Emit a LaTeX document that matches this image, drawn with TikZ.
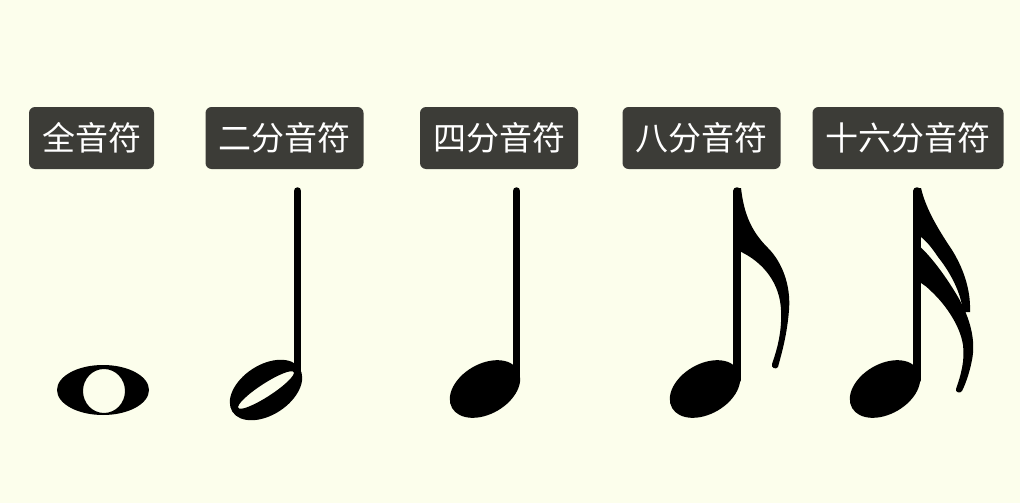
\documentclass[tikz,border=0pt]{standalone}
\usepackage{fontspec}
\usepackage{tikz}
\newfontfamily\cjk{Noto Sans CJK SC}
\definecolor{paper}{RGB}{252,254,236}
\definecolor{tagfill}{RGB}{60,60,55}
\tikzstyle{notename}=[fill=tagfill, rounded corners=6pt, text=white, minimum height=62pt, inner xsep=13pt, font=\cjk\fontsize{33}{33}\selectfont]
\tikzstyle{notestem}=[line width=7.5pt, line cap=round]

\begin{document}
\begin{tikzpicture}[x=1pt, y=-1pt]
                \fill[paper] (0,0) rectangle (1020,503);
                \useasboundingbox (0,0) rectangle (1020,503);
                \node[notename] (whole) at (91.5,138) {全音符};
                \node[notename] (half) at (284.5,138) {二分音符};
                \node[notename] (quarter) at (499,138) {四分音符};
                \node[notename] (eighth) at (701.5,138) {八分音符};
                \node[notename] (sixteenth) at (908,138) {十六分音符};
                \fill[even odd rule] (103,390) ellipse [x radius=46, y radius=25] (104,391) ellipse [x radius=21, y radius=22];
                \fill[even odd rule, rotate around={33:(266,390)}] (266,390) ellipse [x radius=40, y radius=25] (266,390) ellipse [x radius=33, y radius=6.5];
                \fill[rotate around={30:(485,389)}] (485,389) ellipse [x radius=38, y radius=25];
                \fill[rotate around={30:(705,389)}] (705,389) ellipse [x radius=38, y radius=25];
                \fill[rotate around={30:(885,389)}] (885,389) ellipse [x radius=38, y radius=25];
                \draw[notestem] (297.5,191) -- (297.5,382);
                \draw[notestem] (516.5,191) -- (516.5,380);
                \draw[notestem] (737,191) -- (737,380);
                \draw[notestem] (917,191) -- (917,380);
                \fill (737,188) -- (741,188) .. controls (744,215) and (752,232) .. (768,248)
                    .. controls (782,262) and (791,285) .. (789,310) .. controls (787,335) and (782,352) .. (778,367)
                    .. controls (776,370) and (771,368) .. (772,364) .. controls (778,347) and (782,330) .. (781,310)
                    .. controls (780,285) and (765,262) .. (737,250) -- cycle;
                \fill (917,188) -- (921,188) .. controls (926,210) and (940,232) .. (952,250)
                    .. controls (962,266) and (971,288) .. (970,312) -- (963,312)
                    .. controls (961,292) and (950,272) .. (938,257) .. controls (932,248) and (926,240) .. (917,234) -- cycle;
                \fill (917,244) .. controls (930,255) and (945,275) .. (958,297) .. controls (970,318) and (976,340) .. (972,360)
                    .. controls (969,375) and (965,385) .. (962,391) .. controls (960,394) and (955,392) .. (956,389)
                    .. controls (961,375) and (965,360) .. (963,345) .. controls (960,325) and (945,305) .. (935,295)
                    .. controls (928,288) and (924,284) .. (917,281) -- cycle;
            \end{tikzpicture}
\end{document}
